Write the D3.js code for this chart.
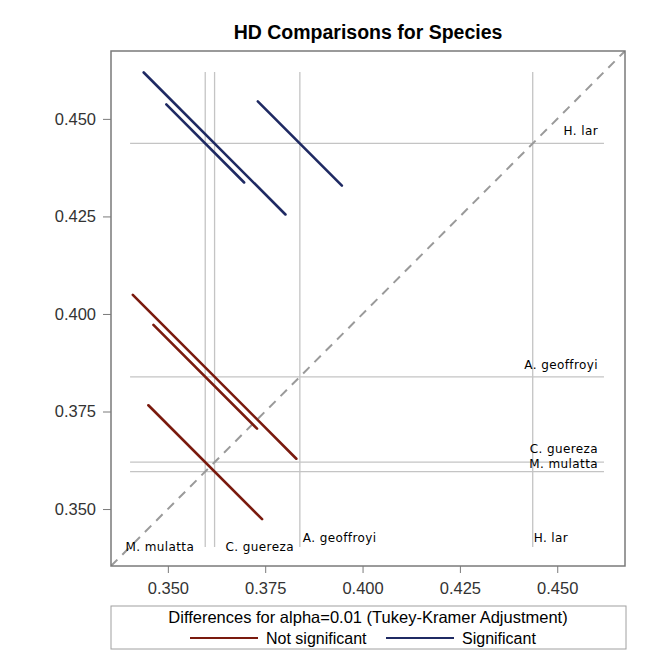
<!DOCTYPE html>
<html>
<head>
<meta charset="utf-8">
<script src="https://cdn.jsdelivr.net/npm/d3@7"></script>
<style>
  body { margin: 0; background: #fff; }
  svg { display: block; }
</style>
</head>
<body>
<div class="canvas"></div>
<script>
// species and their LS-means (same value on both axes)
const species = ['M. mulatta', 'C. guereza', 'A. geoffroyi', 'H. lar'];
const means = [0.3596, 0.3620, 0.3839, 0.4437];

// pairwise difference segments (upper-left end -> lower-right end)
const pairNames = ['C. guereza - H. lar', 'M. mulatta - H. lar', 'A. geoffroyi - H. lar',
                   'C. guereza - A. geoffroyi', 'M. mulatta - A. geoffroyi', 'M. mulatta - C. guereza'];
const segX1 = [0.3438, 0.3496, 0.3731, 0.3410, 0.3463, 0.3450];
const segY1 = [0.4619, 0.4537, 0.4545, 0.4049, 0.3972, 0.3766];
const segX2 = [0.3802, 0.3696, 0.3947, 0.3830, 0.3729, 0.3742];
const segY2 = [0.4255, 0.4337, 0.4329, 0.3629, 0.3706, 0.3474];
const significant = [true, true, true, false, false, false];

const tickValues = [0.350, 0.375, 0.400, 0.425, 0.450];
const axisRange = [0.3354, 0.4674];
const refExtent = [0.3403, 0.4620];

const title = 'HD Comparisons for Species';
const legendTitle = 'Differences for alpha=0.01 (Tukey-Kramer Adjustment)';
const legendItems = ['Not significant', 'Significant'];

// layout
const dims = { width: 657, height: 662 };
const plot = { left: 111, top: 51, right: 625, bottom: 566 };
const colors = { sig: '#1f2a63', notSig: '#7a1a0e', ref: '#c4c4c4', frame: '#7a7a7a', diag: '#9a9a9a' };
const sans = 'Liberation Sans, Arial, sans-serif';

const svg = d3.select('.canvas')
  .append('svg')
  .attr('width', dims.width)
  .attr('height', dims.height);

const x = d3.scaleLinear().domain(axisRange).range([plot.left, plot.right]);
const y = d3.scaleLinear().domain(axisRange).range([plot.bottom, plot.top]);

// title
svg.append('text')
  .attr('x', (plot.left + plot.right) / 2)
  .attr('y', 39)
  .attr('text-anchor', 'middle')
  .attr('font-family', sans)
  .attr('font-weight', 'bold')
  .attr('font-size', 19.5)
  .attr('fill', '#000')
  .text(title);

// clip for the data area
svg.append('clipPath').attr('id', 'clip')
  .append('rect')
  .attr('x', plot.left).attr('y', plot.top)
  .attr('width', plot.right - plot.left).attr('height', plot.bottom - plot.top);

const graph = svg.append('g').attr('clip-path', 'url(#clip)');

// reference lines
graph.selectAll('.vref').data(means).enter().append('line')
  .attr('class', 'vref')
  .attr('x1', d => x(d)).attr('x2', d => x(d))
  .attr('y1', y(refExtent[1])).attr('y2', y(refExtent[0]))
  .attr('stroke', colors.ref).attr('stroke-width', 1.3);

graph.selectAll('.href').data(means).enter().append('line')
  .attr('class', 'href')
  .attr('y1', d => y(d)).attr('y2', d => y(d))
  .attr('x1', x(refExtent[0])).attr('x2', x(refExtent[1]))
  .attr('stroke', colors.ref).attr('stroke-width', 1.3);

// diagonal
graph.append('line')
  .attr('x1', x(axisRange[0])).attr('y1', y(axisRange[0]))
  .attr('x2', x(axisRange[1])).attr('y2', y(axisRange[1]))
  .attr('stroke', colors.diag)
  .attr('stroke-width', 2)
  .attr('stroke-dasharray', '9,7');

// difference segments
graph.selectAll('.seg').data(pairNames).enter().append('line')
  .attr('class', 'seg')
  .attr('x1', (d, i) => x(segX1[i])).attr('y1', (d, i) => y(segY1[i]))
  .attr('x2', (d, i) => x(segX2[i])).attr('y2', (d, i) => y(segY2[i]))
  .attr('stroke', (d, i) => significant[i] ? colors.sig : colors.notSig)
  .attr('stroke-width', 2.6)
  .attr('stroke-linecap', 'round');

// reference labels
const labelFont = 'DejaVu Sans, Verdana, sans-serif';
// bottom labels: [dx from line, baseline offset above plot bottom, anchor]
const bottomPos = [[-11, 15, 'end'], [11, 15, 'start'], [3, 24, 'start'], [1, 24, 'start']];
// right labels: baseline offset from own line
const rightPos = [-4, -9, -8, -8];

svg.selectAll('.blab').data(species).enter().append('text')
  .attr('class', 'blab')
  .attr('x', (d, i) => x(means[i]) + bottomPos[i][0])
  .attr('y', (d, i) => plot.bottom - bottomPos[i][1])
  .attr('text-anchor', (d, i) => bottomPos[i][2])
  .attr('font-family', labelFont)
  .attr('font-size', 12)
  .attr('letter-spacing', 0.4)
  .attr('fill', '#000')
  .text(d => d);

svg.selectAll('.rlab').data(species).enter().append('text')
  .attr('class', 'rlab')
  .attr('x', plot.right - 27)
  .attr('y', (d, i) => y(means[i]) + rightPos[i])
  .attr('text-anchor', 'end')
  .attr('font-family', labelFont)
  .attr('font-size', 12)
  .attr('letter-spacing', 0.4)
  .attr('fill', '#000')
  .text(d => d);

// axes
const xAxis = svg.append('g')
  .attr('transform', `translate(0, ${plot.bottom})`)
  .call(d3.axisBottom(x).tickValues(tickValues).tickFormat(d3.format('.3f')).tickSizeOuter(0).tickSize(7).tickPadding(9));

const yAxis = svg.append('g')
  .attr('transform', `translate(${plot.left}, 0)`)
  .call(d3.axisLeft(y).tickValues(tickValues).tickFormat(d3.format('.3f')).tickSizeOuter(0).tickSize(8).tickPadding(7));

[xAxis, yAxis].forEach(a => {
  a.select('.domain').remove();
  a.selectAll('line').attr('stroke', colors.frame);
  a.selectAll('text')
    .attr('font-family', sans)
    .attr('font-size', 16.5)
    .attr('fill', '#333');
});

// frame
svg.append('rect')
  .attr('x', plot.left).attr('y', plot.top)
  .attr('width', plot.right - plot.left).attr('height', plot.bottom - plot.top)
  .attr('fill', 'none')
  .attr('stroke', colors.frame)
  .attr('stroke-width', 1.5);

// legend
const legend = svg.append('g').attr('transform', 'translate(0, 606)');
legend.append('rect')
  .attr('x', plot.left).attr('y', 0)
  .attr('width', plot.right - plot.left + 1).attr('height', 43)
  .attr('fill', 'none')
  .attr('stroke', '#a0a0a0')
  .attr('stroke-width', 1);

legend.append('text')
  .attr('x', (plot.left + plot.right) / 2)
  .attr('y', 17)
  .attr('text-anchor', 'middle')
  .attr('font-family', sans)
  .attr('font-size', 16.5)
  .attr('fill', '#000')
  .text(legendTitle);

const legendX = [190, 386];
const legendColors = [colors.notSig, colors.sig];
const items = legend.selectAll('.item').data(legendItems).enter().append('g')
  .attr('class', 'item')
  .attr('transform', (d, i) => `translate(${legendX[i]}, 32)`);

items.append('line')
  .attr('x1', 0).attr('x2', 68)
  .attr('stroke', (d, i) => legendColors[i])
  .attr('stroke-width', 2.2);

items.append('text')
  .attr('x', 76)
  .attr('y', 6)
  .attr('font-family', sans)
  .attr('font-size', 16)
  .attr('fill', '#000')
  .text(d => d);
</script>
</body>
</html>
